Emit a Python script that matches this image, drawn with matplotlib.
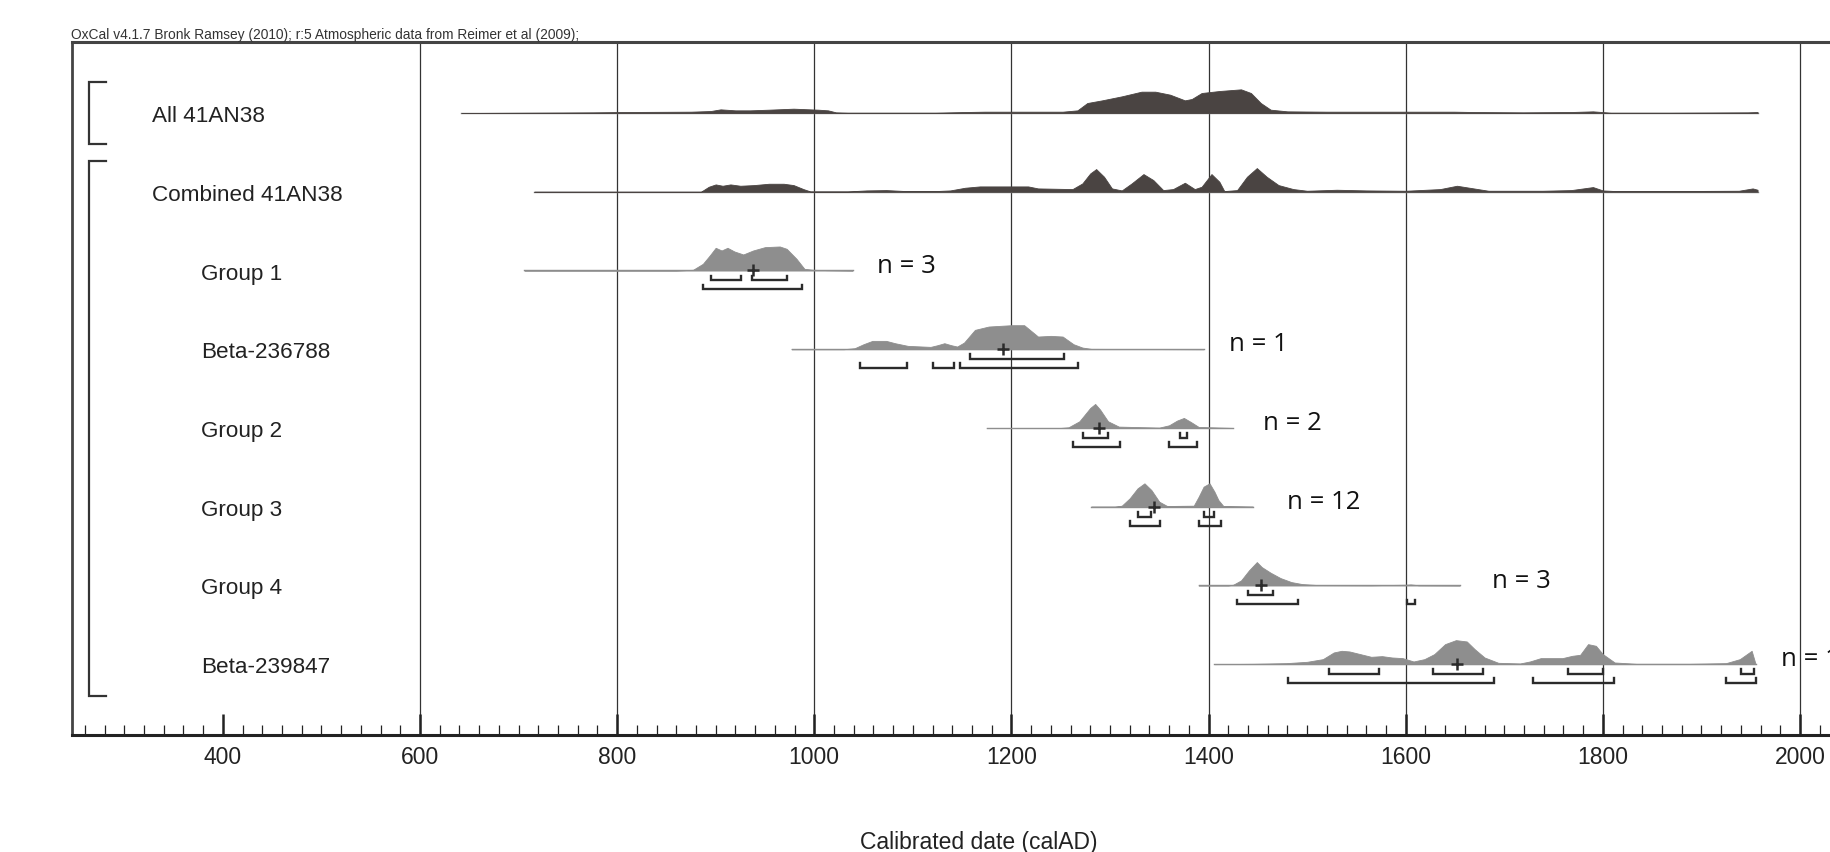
import matplotlib
matplotlib.use("Agg")
import matplotlib.pyplot as plt
from matplotlib import font_manager

# ---------------- data ----------------
row_labels = ["All 41AN38", "Combined 41AN38", "Group 1", "Beta-236788",
              "Group 2", "Group 3", "Group 4", "Beta-239847"]
row_indent = [0, 0, 1, 1, 1, 1, 1, 1]
n_labels = [None, None, "n = 3", "n = 1", "n = 2", "n = 12", "n = 3", "n = 1"]
n_label_x = [None, None, 1064, 1421, 1455, 1480, 1688, 1981]

# calibration range (thin baseline line) per row, calAD
range_start = [642, 716, 706, 977, 1175, 1281, 1390, 1406]
range_end = [1957, 1957, 1039, 1395, 1425, 1445, 1655, 1955]

# probability outlines (year, relative height, 72 = tallest)
all_yr = [642, 776, 805, 875, 895, 905, 920, 935, 954, 979, 1004, 1014, 1022, 1034, 1073,
          1123, 1153, 1173, 1222, 1252, 1267, 1277, 1292, 1312, 1332, 1346, 1361, 1376,
          1383, 1393, 1411, 1433, 1443, 1453, 1463, 1480, 1520, 1570, 1649, 1669, 1719,
          1768, 1790, 1808, 1868, 1947, 1957]
all_h = [0, 2, 3, 4, 6, 11, 8, 8, 10, 13, 10, 8, 2, 1, 1,
         1, 3, 4, 4, 4, 8, 30, 38, 50, 64, 64, 55, 38,
         42, 60, 66, 71, 60, 30, 10, 5, 4, 4, 4, 3, 2,
         3, 5, 1, 1, 2, 3]

comb_yr = [716, 885, 893, 900, 907, 915, 925, 939, 954, 969, 979, 989, 996, 1034, 1053,
           1073, 1093, 1123, 1138, 1153, 1168, 1217, 1227, 1262, 1272, 1280, 1286, 1294,
           1302, 1312, 1322, 1334, 1344, 1354, 1364, 1376, 1386, 1393, 1403, 1411, 1416,
           1429, 1439, 1449, 1459, 1471, 1486, 1500, 1530, 1560, 1600, 1635, 1652, 1669,
           1684, 1739, 1768, 1790, 1800, 1813, 1868, 1938, 1952, 1957]
comb_h = [0, 0, 15, 22, 18, 22, 18, 20, 24, 24, 20, 8, 1, 1, 4,
          5, 2, 2, 4, 12, 16, 16, 10, 8, 25, 55, 68, 45,
          10, 4, 25, 53, 35, 5, 8, 27, 8, 15, 53, 30, 2,
          5, 45, 71, 45, 20, 8, 3, 6, 4, 3, 8, 18, 10,
          3, 3, 5, 14, 4, 2, 2, 3, 10, 6]

g1_yr = [706, 860, 877, 887, 894, 900, 906, 912, 919, 928, 938, 950, 965, 972, 982, 990,
         999, 1013, 1039]
g1_h = [0, 0, 2, 20, 45, 68, 60, 68, 57, 48, 60, 70, 72, 65, 35, 5, 2, 1, 0]

b1_yr = [977, 1030, 1041, 1050, 1059, 1073, 1082, 1095, 1118, 1125, 1132, 1139, 1145,
         1152, 1163, 1177, 1200, 1213, 1220, 1227, 1240, 1252, 1263, 1272, 1281, 1395]
b1_h = [0, 0, 3, 15, 25, 25, 18, 10, 7, 12, 18, 12, 8,
        20, 58, 68, 72, 72, 55, 38, 40, 38, 15, 5, 1, 0]

g2_yr = [1175, 1250, 1258, 1269, 1280, 1285, 1290, 1298, 1309, 1350, 1360, 1368, 1375,
         1382, 1390, 1425]
g2_h = [0, 0, 2, 20, 60, 72, 55, 20, 4, 1, 8, 22, 30, 18, 3, 0]

g3_yr = [1281, 1305, 1312, 1320, 1328, 1335, 1342, 1350, 1358, 1385, 1390, 1395, 1401,
         1406, 1410, 1415, 1445]
g3_h = [0, 0, 3, 25, 55, 70, 50, 15, 2, 3, 30, 60, 70, 45, 20, 2, 0]

g4_yr = [1390, 1420, 1425, 1433, 1441, 1449, 1454, 1463, 1473, 1484, 1495, 1511, 1565,
         1600, 1605, 1613, 1655]
g4_h = [0, 0, 2, 15, 45, 70, 55, 38, 22, 10, 4, 1, 0.5, 2, 3, 0.5, 0]

b2_yr = [1406, 1446, 1479, 1500, 1516, 1527, 1535, 1543, 1554, 1565, 1576, 1586, 1597,
         1608, 1619, 1629, 1640, 1651, 1662, 1670, 1680, 1694, 1716, 1726, 1737, 1759,
         1769, 1777, 1785, 1793, 1800, 1812, 1834, 1888, 1925, 1939, 1951, 1955]
b2_h = [0, 1, 3, 7, 15, 35, 40, 38, 30, 22, 24, 20, 18,
        8, 15, 30, 60, 72, 68, 45, 20, 4, 2, 8, 18, 18,
        25, 28, 60, 55, 30, 5, 1, 1, 3, 15, 40, 0]

dens_yr = [all_yr, comb_yr, g1_yr, b1_yr, g2_yr, g3_yr, g4_yr, b2_yr]
dens_h = [all_h, comb_h, g1_h, b1_h, g2_h, g3_h, g4_h, b2_h]

# highest posterior density ranges: 68.2 % and 95.4 %
hpd68 = [[], [],
         [(895, 926), (937, 972)],
         [(1158, 1253)],
         [(1273, 1298), (1371, 1378)],
         [(1328, 1342), (1395, 1406)],
         [(1440, 1465)],
         [(1522, 1573), (1628, 1678), (1765, 1800), (1940, 1953)]]
hpd95 = [[], [],
         [(887, 988)],
         [(1046, 1094), (1120, 1142), (1148, 1268)],
         [(1263, 1310), (1360, 1388)],
         [(1320, 1351), (1390, 1413)],
         [(1429, 1491), (1601, 1609)],
         [(1481, 1690), (1729, 1811), (1925, 1955)]]
means = [None, None, 938, 1191, 1289, 1345, 1453, 1652]

grid_years = [600, 800, 1000, 1200, 1400, 1600, 1800, 2000]
major_ticks = [400, 600, 800, 1000, 1200, 1400, 1600, 1800, 2000]
minor_ticks = list(range(260, 2031, 20))

title_text = "OxCal v4.1.7 Bronk Ramsey (2010); r:5 Atmospheric data from Reimer et al (2009);"
xlabel_text = "Calibrated date (calAD)"

# ---------------- styling ----------------
available = {f.name for f in font_manager.fontManager.ttflist}
base_font = "Liberation Sans"
narrow_font = "Liberation Sans Narrow" if "Liberation Sans Narrow" in available else None
plt.rcParams["font.family"] = [base_font, "DejaVu Sans"]

W, H = 1831, 852
fig = plt.figure(figsize=(W / 100, H / 100), dpi=100)
ax = fig.add_axes([72 / W, 1 - 735 / H, 1 - 72 / W, (735 - 42) / H])
ax.set_xlim(247, 2031.5)
ax.set_ylim(7.90, -0.902)

dark_fill = "#4a4442"
grey_fill = "#8e8e8e"
line_col = "#2b2b2b"
PEAK = 72.0
HSCALE = 0.305      # tallest peak height in row units

for g in grid_years:
    ax.axvline(g, color="#333333", lw=0.9, zorder=1)

for i in range(len(row_labels)):
    fc = dark_fill if i < 2 else grey_fill
    ax.plot([range_start[i], range_end[i]], [i, i], color="#8a8a8a", lw=1.0, zorder=2)
    ys = [i - h / PEAK * HSCALE for h in dens_h[i]]
    ax.fill_between(dens_yr[i], [i] * len(ys), ys, color=fc, lw=0.6,
                    edgecolor=fc, zorder=3)
    # labels
    lx = 328 if row_indent[i] == 0 else 378
    ax.text(lx, i + 0.045, row_labels[i], fontsize=16.2, color="#222222", va="center",
            ha="left", zorder=5)
    if n_labels[i]:
        ax.text(n_label_x[i], i - 0.055, n_labels[i], fontsize=18.5, va="center", ha="left",
                family=["Open Sans", "DejaVu Sans"], color="#111111", zorder=5)
    tick = 0.06
    for (a, b) in hpd68[i]:
        y = i + 0.125
        ax.plot([a, a, b, b], [y - tick, y, y, y - tick], color=line_col, lw=1.7,
                solid_joinstyle="miter", zorder=4)
    for (a, b) in hpd95[i]:
        y = i + 0.24
        ax.plot([a, a, b, b], [y - tick, y, y, y - tick], color=line_col, lw=1.7,
                solid_joinstyle="miter", zorder=4)
    if means[i] is not None:
        ax.plot(means[i], i, marker="+", ms=9, mew=1.8, color=line_col, zorder=5)

# group brackets on the left
def bracket(y0, y1):
    ax.plot([282, 264, 264, 282], [y0, y0, y1, y1], color="#333333", lw=1.6,
            solid_joinstyle="miter", zorder=4)

bracket(-0.394, 0.394)
bracket(0.61, 7.41)

# axes styling
ax.spines["right"].set_visible(False)
ax.spines["top"].set_linewidth(2.2)
ax.spines["top"].set_color("#444444")
ax.spines["left"].set_linewidth(2.0)
ax.spines["left"].set_color("#444444")
ax.spines["bottom"].set_linewidth(2.2)
ax.spines["bottom"].set_color("#222222")
ax.set_yticks([])
ax.set_xticks(major_ticks)
ax.set_xticks(minor_ticks, minor=True)
ax.tick_params(axis="x", which="major", direction="in", length=15, width=1.8,
               color="#222222", pad=8, labelsize=16.5, labelcolor="#222222")
ax.tick_params(axis="x", which="minor", direction="in", length=7, width=0.9,
               color="#222222")

ax.set_xlabel(xlabel_text, fontsize=16.5, color="#222222")
ax.xaxis.set_label_coords((979 - 72) / (W - 72), -(842 - 735) / (735 - 42))
ax.xaxis.label.set_va("center")

if narrow_font:
    fig.text(71 / W, 1 - 35 / H, title_text, fontsize=9.2, family=narrow_font,
             va="center", ha="left", color="#333333")
else:
    t = fig.text(71 / W, 1 - 35 / H, title_text, fontsize=9.2, va="center", ha="left",
                 color="#333333")
    fig.canvas.draw()
    w = t.get_window_extent().width
    t.set_fontsize(9.2 * 505.0 / w)

fig.savefig("out.png", dpi=100)
